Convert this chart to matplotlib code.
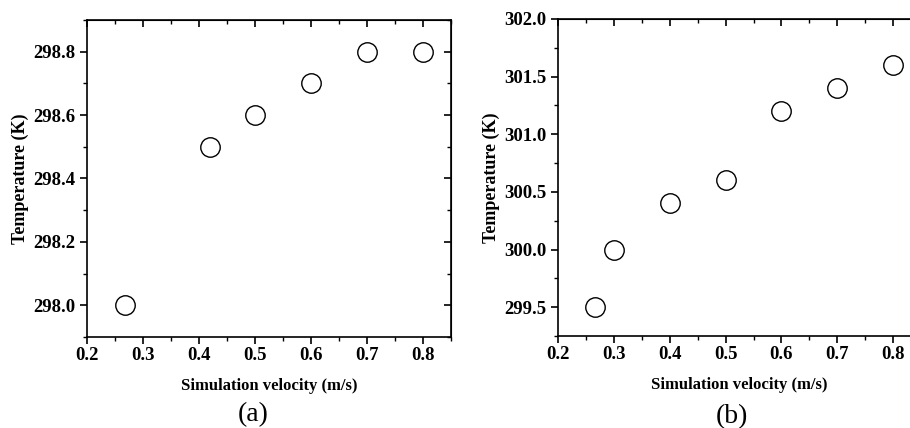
import matplotlib.pyplot as plt
from matplotlib.ticker import MultipleLocator

# data
vel_a = [0.267, 0.42, 0.5, 0.6, 0.7, 0.8]
temp_a = [298.0, 298.5, 298.6, 298.7, 298.8, 298.8]

vel_b = [0.267, 0.3, 0.4, 0.5, 0.6, 0.7, 0.8]
temp_b = [299.5, 300.0, 300.4, 300.6, 301.2, 301.4, 301.6]

plt.rcParams['font.family'] = ['Liberation Serif', 'DejaVu Serif']

fig = plt.figure(figsize=(9.1, 4.28), dpi=100)
ax1 = fig.add_axes([0.0956, 0.2126, 0.400, 0.7407])
ax2 = fig.add_axes([0.6132, 0.2150, 0.399, 0.7407])


def style_axis(ax, ymajor, yminor):
    ax.xaxis.set_major_locator(MultipleLocator(0.1))
    ax.xaxis.set_minor_locator(MultipleLocator(0.05))
    ax.yaxis.set_major_locator(MultipleLocator(ymajor))
    ax.yaxis.set_minor_locator(MultipleLocator(yminor))
    ax.yaxis.set_major_formatter(plt.FormatStrFormatter('%.1f'))
    ax.tick_params(which='major', direction='out', length=5, width=1.2, labelsize=13.5)
    ax.tick_params(which='minor', direction='out', length=3, width=1.0)
    ax.tick_params(axis='x', which='both', pad=2)
    for lab in ax.get_xticklabels() + ax.get_yticklabels():
        lab.set_fontweight('bold')
    for s in ax.spines.values():
        s.set_linewidth(1.2)
    # inward ticks on top and right, no labels
    top = ax.secondary_xaxis('top')
    top.xaxis.set_major_locator(MultipleLocator(0.1))
    top.xaxis.set_minor_locator(MultipleLocator(0.05))
    top.tick_params(which='major', direction='in', length=5, width=1.2, labeltop=False)
    top.tick_params(which='minor', direction='in', length=3, width=1.0)
    right = ax.secondary_yaxis('right')
    right.yaxis.set_major_locator(MultipleLocator(ymajor))
    right.yaxis.set_minor_locator(MultipleLocator(yminor))
    right.tick_params(which='major', direction='in', length=5, width=1.2, labelright=False)
    right.tick_params(which='minor', direction='in', length=3, width=1.0)
    ax.set_xlabel('Simulation velocity (m/s)', fontsize=12, fontweight='bold', labelpad=10)
    ax.set_ylabel('Temperature (K)', fontsize=13, fontweight='bold', labelpad=3)


# panel (a)
ax1.plot(vel_a, temp_a, 'o', markersize=14, markerfacecolor='none',
         markeredgecolor='black', markeredgewidth=1.0)
ax1.set_xlim(0.2, 0.85)
ax1.set_ylim(297.9, 298.9)
style_axis(ax1, 0.2, 0.1)

# panel (b)
ax2.plot(vel_b, temp_b, 'o', markersize=14, markerfacecolor='none',
         markeredgecolor='black', markeredgewidth=1.0)
ax2.set_xlim(0.2, 0.85)
ax2.set_ylim(299.25, 302.0)
style_axis(ax2, 0.5, 0.25)

fig.text(253 / 910, 1 - 415 / 428, '(a)', fontsize=20, ha='center', va='center')
fig.text(732 / 910, 1 - 417 / 428, '(b)', fontsize=20, ha='center', va='center')

fig.savefig('out.png', dpi=100)
